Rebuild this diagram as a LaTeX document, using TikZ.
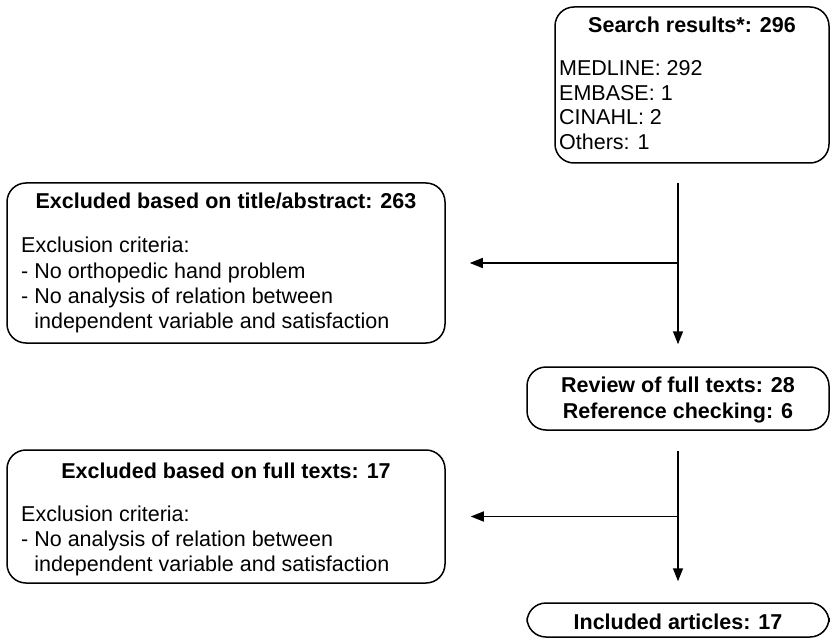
\documentclass[tikz,border=0pt]{standalone}
\usepackage{fontspec}
\setmainfont{Liberation Sans}
\usetikzlibrary{arrows.meta}
\begin{document}
\begin{tikzpicture}[x=1pt,y=-1pt,
  box/.style={draw, line width=1.5pt, rounded corners=19pt, inner sep=0pt},
  txt/.style={anchor=base west, inner sep=0pt, font=\fontsize{21.5}{25}\selectfont},
  ttl/.style={anchor=base, inner sep=0pt, font=\fontsize{21.5}{25}\selectfont\bfseries},
  arr/.style={line width=1.5pt, -{Triangle[length=13pt,width=10pt]}}]
\useasboundingbox (0,0) rectangle (830,639);
% boxes
\node[box, minimum width=274pt, minimum height=156pt] (search) at (692,85) {};
\node[box, minimum width=438pt, minimum height=160pt] (exc1) at (226,263) {};
\node[box, minimum width=302pt, minimum height=63pt] (review) at (678,398.5) {};
\node[box, minimum width=438pt, minimum height=133pt] (exc2) at (226,516.5) {};
\node[box, minimum width=302pt, minimum height=34pt] (incl) at (678,620) {};
% texts
\node[ttl] (st) at (692,33) {Search results*: 296};
\node[txt] (s1) at (559,76) {MEDLINE: 292};
\node[txt] (s2) at (559,100.5) {EMBASE: 1};
\node[txt] (s3) at (559,125) {CINAHL: 2};
\node[txt] (s4) at (559,149.5) {Others: 1};
\node[ttl] (e1t) at (226,209) {Excluded based on title/abstract: 263};
\node[txt] (e11) at (21,253) {Exclusion criteria:};
\node[txt] (e12) at (21,278) {- No orthopedic hand problem};
\node[txt] (e13) at (21,303) {- No analysis of relation between};
\node[txt] (e14) at (21,328) {\phantom{- }independent variable and satisfaction};
\node[ttl] (r1) at (678,392) {Review of full texts: 28};
\node[ttl] (r2) at (678,418) {Reference checking: 6};
\node[ttl] (e2t) at (226,478) {Excluded based on full texts: 17};
\node[txt] (e21) at (21,521) {Exclusion criteria:};
\node[txt] (e22) at (21,546) {- No analysis of relation between};
\node[txt] (e23) at (21,571) {\phantom{- }independent variable and satisfaction};
\node[ttl] (it) at (678,629) {Included articles: 17};
% connectors
\draw[arr, shorten <=19pt, shorten >=22pt] (search.south -| review.north) -- (review.north);
\draw[arr, shorten >=24pt] (review.north |- exc1.east) -- (exc1.east);
\draw[arr, shorten <=20pt, shorten >=21pt] (review.south) -- (incl.north);
\draw[arr, shorten >=25pt] (review.south |- exc2.east) -- (exc2.east);
\end{tikzpicture}
\end{document}
